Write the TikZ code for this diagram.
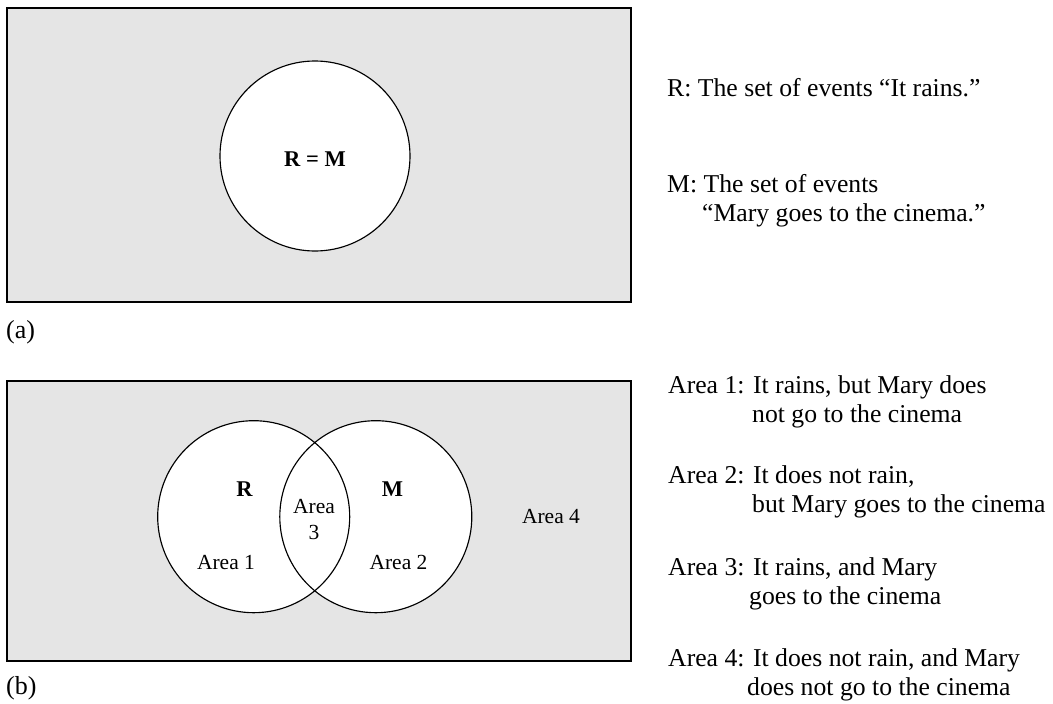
\documentclass[tikz,border=0pt]{standalone}
\usepackage{fontspec}
\setmainfont{Liberation Serif}
\definecolor{panel}{RGB}{229,229,229}
\tikzset{
  panelbox/.style={fill=panel, draw=black, line width=1.4pt},
  setline/.style={draw=black, line width=1.15pt},
  inlbl/.style={font=\fontsize{21.5}{26}\selectfont, inner sep=0pt, align=center},
  setname/.style={font=\fontsize{22.5}{26}\selectfont\bfseries, inner sep=0pt},
  note/.style={font=\fontsize{25.7}{30}\selectfont, inner sep=0pt, anchor=base west},
  tag/.style={font=\fontsize{26}{28}\selectfont, inner sep=0pt, anchor=base west},
}
\begin{document}
\begin{tikzpicture}[x=1pt, y=-1pt]
\useasboundingbox (0,0) rectangle (1053,704);

% ---- (a): R and M coincide ----
\draw[panelbox] (7,8) rectangle (631,302);
\fill[white] (315,156) circle (95);
\draw[setline] (315,156) circle (95);
\node[setname] (rm) at (315,159) {R = M};
\node[tag] (taga) at (6,338) {(a)};

\node[note] (defR) at (667,96) {R: The set of events “It rains.”};
\node[note] (defM1) at (667,192) {M: The set of events};
\node[note] (defM2) at (702,221) {“Mary goes to the cinema.”};

% ---- (b): R and M overlap ----
\draw[panelbox] (7,381) rectangle (631,661);
\fill[white] (253.7,516.7) circle (96) (375.8,516.7) circle (96);
\draw[setline] (253.7,516.7) circle (96);
\draw[setline] (375.8,516.7) circle (96);

\node[setname] (lblR) at (244.5,489.5) {R};
\node[setname] (lblM) at (392.5,489) {M};
\node[inlbl] (a1) at (226,562.5) {Area 1};
\node[inlbl] (a2) at (398.5,562.5) {Area 2};
\node[inlbl] (a3) at (314,520) {Area\\3};
\node[inlbl] (a4) at (551,516.5) {Area 4};
\node[tag] (tagb) at (6,694) {(b)};

\node[note] (d1a) at (668,393) {Area 1: It rains, but Mary does};
\node[note] (d1b) at (752,422) {not go to the cinema};
\node[note] (d2a) at (668,483) {Area 2: It does not rain,};
\node[note] (d2b) at (752,512) {but Mary goes to the cinema};
\node[note] (d3a) at (668,575) {Area 3: It rains, and Mary};
\node[note] (d3b) at (749,604) {goes to the cinema};
\node[note] (d4a) at (668,666) {Area 4: It does not rain, and Mary};
\node[note] (d4b) at (747,695) {does not go to the cinema};
\end{tikzpicture}
\end{document}
